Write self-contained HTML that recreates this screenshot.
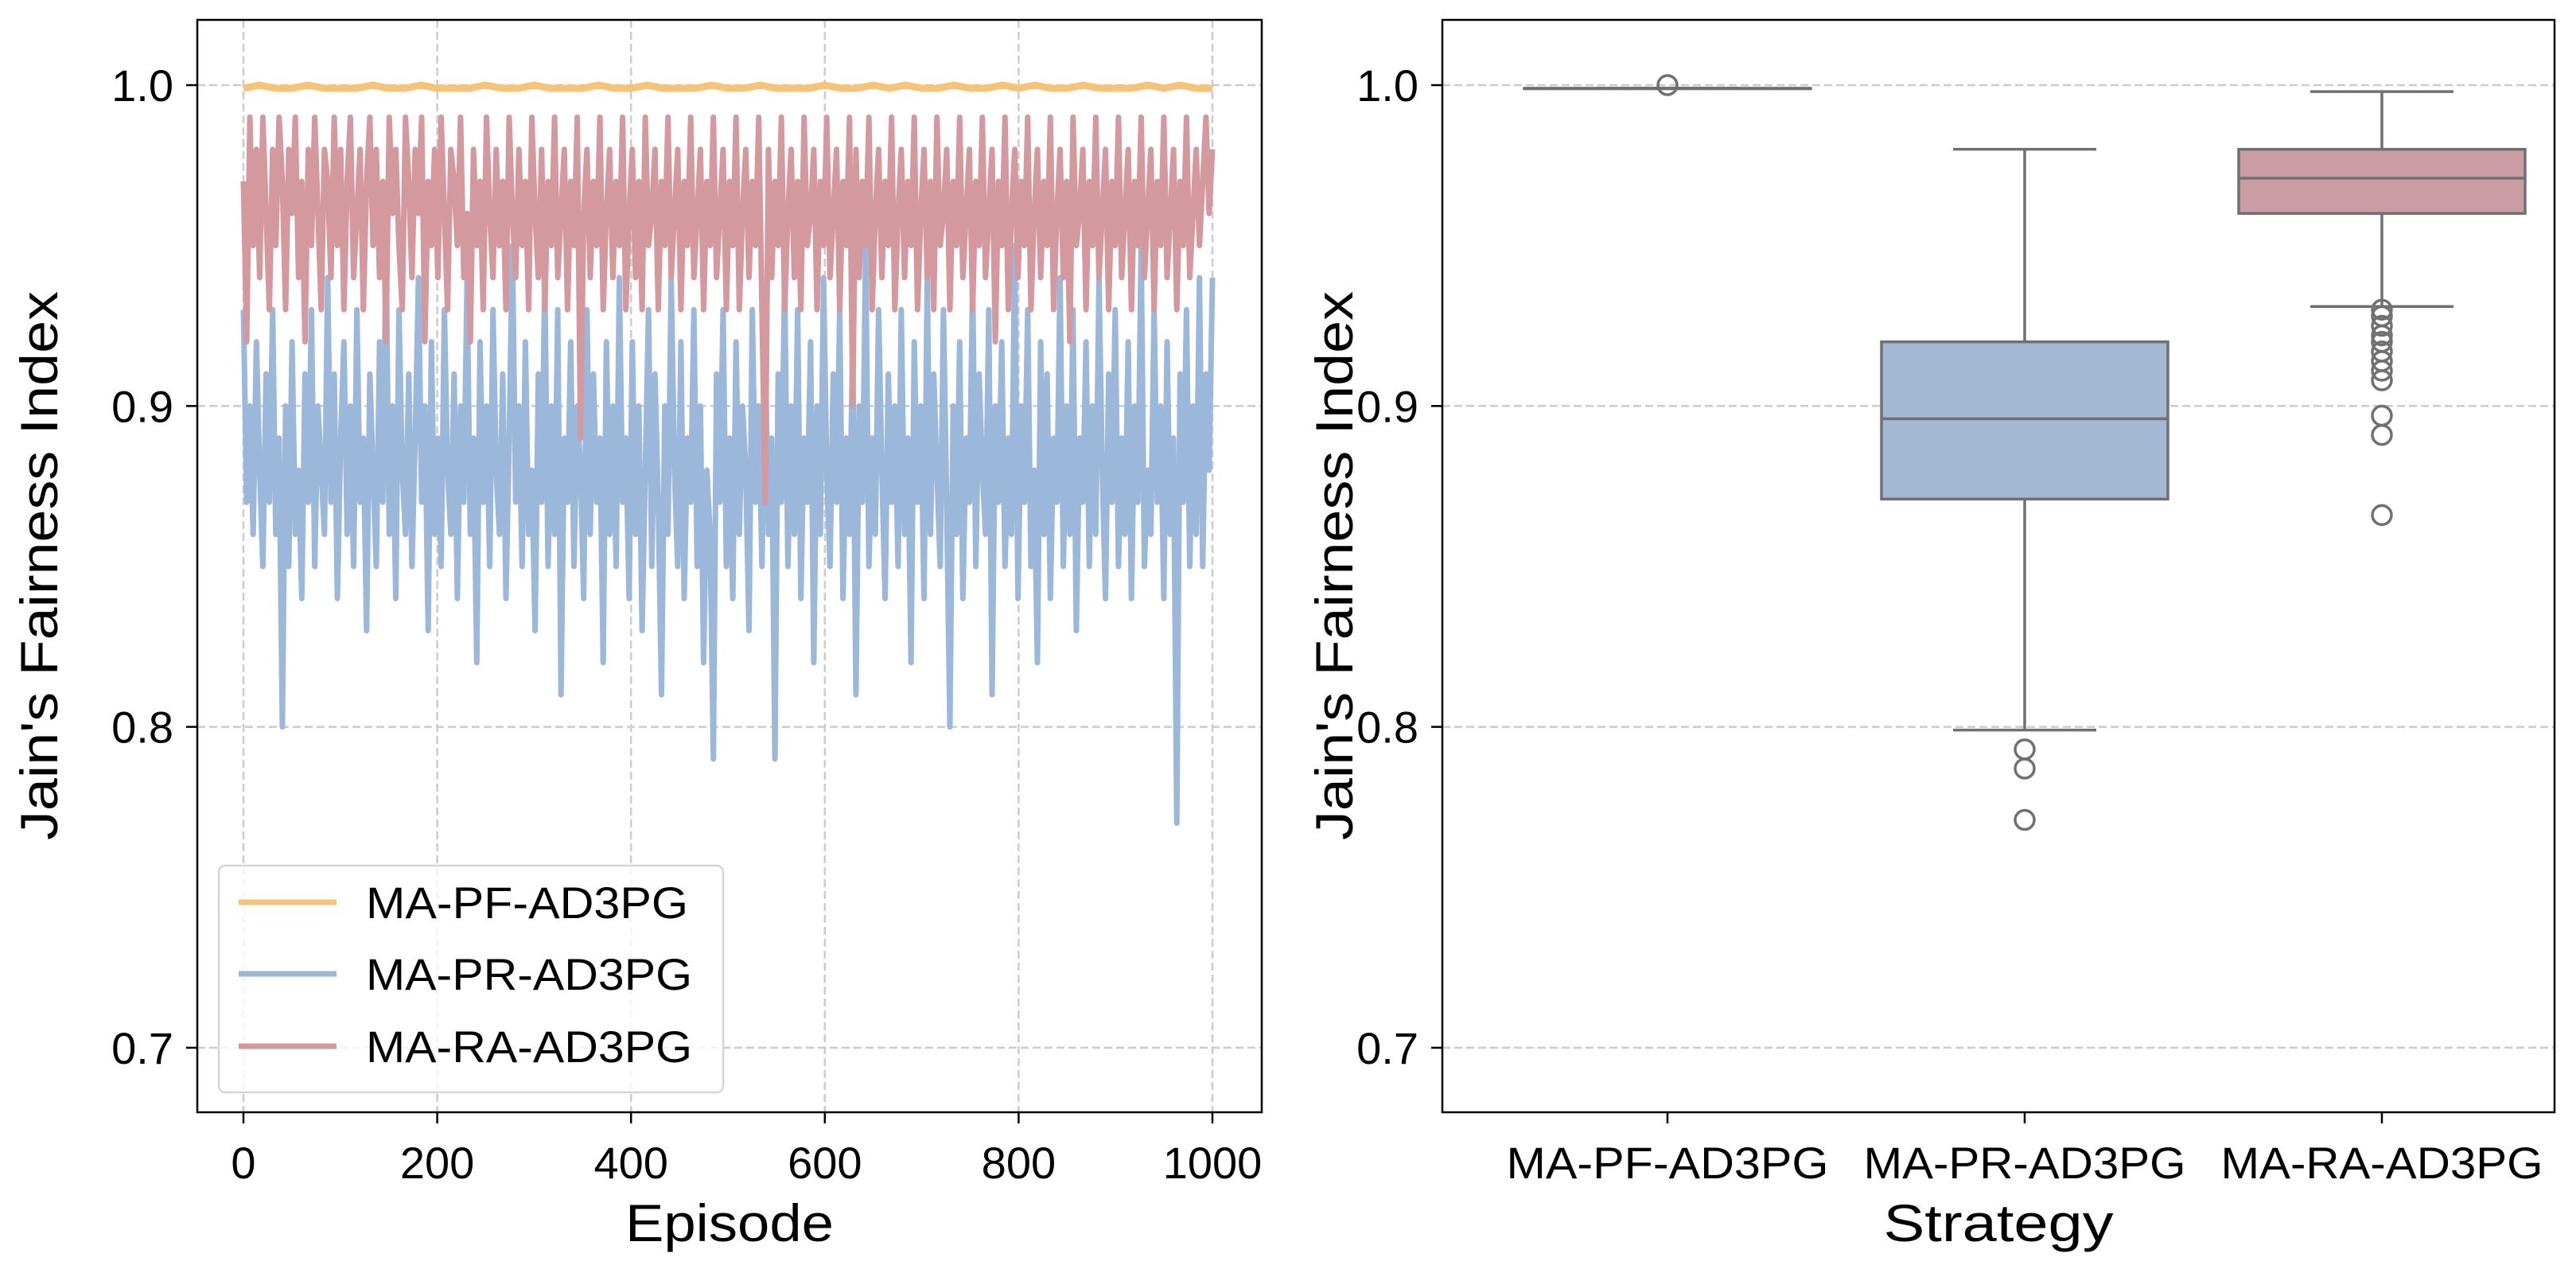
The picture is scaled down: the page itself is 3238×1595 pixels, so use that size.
<!DOCTYPE html>
<html><head><meta charset="utf-8"><style>
html,body{margin:0;padding:0;background:#fff;}
svg{display:block;font-family:"Liberation Sans","DejaVu Sans",sans-serif;}
</style></head><body>
<svg id="fig" width="3238" height="1595" viewBox="0 0 3238 1595" xmlns="http://www.w3.org/2000/svg"></svg>
<script>
// ---------- data ----------
const yTicks = [0.7, 0.8, 0.9, 1.0];
const yTickLabels = ["0.7", "0.8", "0.9", "1.0"];
const xTicks = [0, 200, 400, 600, 800, 1000];
const xTickLabels = ["0", "200", "400", "600", "800", "1000"];
const seriesNames = ["MA-PF-AD3PG", "MA-PR-AD3PG", "MA-RA-AD3PG"];
const pfValues = [0.999,1.0,0.999,0.999,1.0,0.999,0.999,0.999,1.0,0.999,0.999,1.0,0.999,0.999,0.999,1.0,0.999,0.999,1.0,0.999,0.999,0.999,1.0,0.999,0.999,1.0,0.999,0.999,0.999,1.0,0.999,0.999,1.0,0.999,0.999,0.999,1.0,0.999,0.999,1.0,0.999,1.0,0.999,0.999,1.0,0.999,0.999,1.0,0.999,1.0,0.999,0.999,1.0,0.999,0.999,0.999,1.0,0.999,1.0,0.999,0.999];
const prValues = [0.93,0.87,0.90,0.86,0.92,0.88,0.85,0.91,0.87,0.93,0.86,0.89,0.80,0.90,0.85,0.92,0.86,0.88,0.84,0.91,
0.87,0.93,0.85,0.90,0.88,0.86,0.94,0.87,0.91,0.84,0.89,0.92,0.86,0.90,0.85,0.93,0.87,0.89,0.83,0.91,
0.88,0.85,0.92,0.87,0.95,0.86,0.90,0.84,0.93,0.88,0.86,0.91,0.85,0.89,0.94,0.87,0.90,0.83,0.92,0.86,
0.89,0.85,0.93,0.88,0.86,0.91,0.84,0.90,0.87,0.94,0.86,0.89,0.82,0.92,0.87,0.90,0.85,0.93,0.88,0.86,
0.91,0.84,0.89,0.95,0.87,0.90,0.85,0.92,0.86,0.88,0.83,0.91,0.87,0.94,0.85,0.90,0.86,0.93,0.81,0.89,
0.87,0.92,0.85,0.90,0.88,0.84,0.93,0.86,0.91,0.87,0.89,0.82,0.92,0.86,0.90,0.85,0.94,0.87,0.89,0.84,
0.92,0.86,0.90,0.83,0.88,0.93,0.85,0.91,0.87,0.81,0.90,0.86,0.94,0.88,0.85,0.92,0.84,0.89,0.87,0.93,
0.85,0.90,0.82,0.88,0.86,0.79,0.91,0.87,0.93,0.85,0.89,0.84,0.92,0.86,0.90,0.88,0.83,0.93,0.87,0.90,
0.85,0.92,0.86,0.89,0.79,0.91,0.87,0.94,0.85,0.90,0.86,0.93,0.84,0.89,0.87,0.92,0.82,0.90,0.86,0.94,
0.88,0.85,0.91,0.87,0.93,0.84,0.89,0.86,0.92,0.81,0.90,0.87,0.95,0.85,0.89,0.86,0.93,0.88,0.84,0.91,
0.87,0.90,0.85,0.93,0.86,0.89,0.82,0.92,0.87,0.90,0.84,0.94,0.86,0.91,0.88,0.85,0.93,0.87,0.80,0.90,
0.86,0.92,0.84,0.89,0.87,0.94,0.85,0.91,0.88,0.86,0.93,0.81,0.90,0.87,0.92,0.85,0.89,0.86,0.95,0.84,
0.90,0.87,0.93,0.85,0.88,0.82,0.92,0.86,0.91,0.84,0.89,0.87,0.94,0.85,0.90,0.86,0.93,0.83,0.89,0.87,
0.92,0.85,0.90,0.86,0.94,0.88,0.84,0.91,0.87,0.93,0.85,0.89,0.86,0.92,0.84,0.90,0.87,0.95,0.85,0.88,
0.86,0.93,0.87,0.90,0.84,0.92,0.86,0.89,0.77,0.91,0.87,0.93,0.85,0.90,0.86,0.94,0.85,0.91,0.88,0.94];
const raValues = [0.97,0.92,0.99,0.95,0.98,0.94,0.99,0.96,0.93,0.98,0.95,0.99,0.97,0.93,0.98,0.96,0.99,0.94,0.97,0.92,
0.98,0.95,0.99,0.96,0.93,0.98,0.97,0.94,0.99,0.95,0.98,0.93,0.97,0.99,0.94,0.96,0.98,0.93,0.97,0.99,
0.95,0.98,0.94,0.97,0.92,0.99,0.96,0.98,0.95,0.93,0.99,0.97,0.94,0.98,0.96,0.99,0.92,0.97,0.95,0.98,
0.94,0.99,0.96,0.93,0.98,0.97,0.95,0.99,0.94,0.96,0.92,0.98,0.95,0.97,0.93,0.99,0.96,0.94,0.98,0.95,
0.97,0.93,0.99,0.96,0.94,0.98,0.95,0.97,0.93,0.99,0.96,0.94,0.98,0.93,0.97,0.95,0.99,0.94,0.96,0.98,
0.93,0.97,0.95,0.99,0.89,0.96,0.98,0.94,0.97,0.95,0.99,0.93,0.96,0.98,0.94,0.97,0.95,0.99,0.93,0.96,
0.98,0.94,0.97,0.93,0.99,0.95,0.96,0.98,0.93,0.97,0.95,0.99,0.94,0.96,0.98,0.93,0.97,0.95,0.99,0.94,
0.96,0.98,0.93,0.97,0.95,0.99,0.94,0.96,0.98,0.93,0.97,0.95,0.99,0.93,0.96,0.98,0.94,0.97,0.95,0.99,
0.93,0.87,0.98,0.94,0.97,0.95,0.99,0.93,0.96,0.98,0.94,0.97,0.93,0.99,0.95,0.96,0.98,0.93,0.97,0.95,
0.99,0.94,0.96,0.98,0.93,0.97,0.95,0.99,0.90,0.98,0.94,0.97,0.95,0.99,0.93,0.96,0.98,0.94,0.97,0.95,
0.99,0.93,0.96,0.98,0.94,0.97,0.95,0.99,0.93,0.96,0.98,0.94,0.97,0.93,0.99,0.95,0.96,0.98,0.93,0.97,
0.95,0.99,0.94,0.96,0.98,0.93,0.97,0.95,0.99,0.94,0.96,0.98,0.92,0.97,0.95,0.99,0.93,0.96,0.98,0.94,
0.97,0.95,0.99,0.93,0.96,0.98,0.94,0.97,0.95,0.99,0.93,0.96,0.98,0.94,0.97,0.92,0.99,0.95,0.96,0.98,
0.93,0.97,0.95,0.99,0.94,0.96,0.98,0.93,0.97,0.95,0.99,0.94,0.96,0.98,0.93,0.97,0.95,0.99,0.94,0.96,
0.98,0.93,0.97,0.95,0.99,0.94,0.96,0.98,0.93,0.97,0.95,0.99,0.94,0.96,0.98,0.95,0.97,0.99,0.96,0.98];
// box stats: [whiskerLow, q1, median, q3, whiskerHigh]
const boxCategories = ["MA-PF-AD3PG", "MA-PR-AD3PG", "MA-RA-AD3PG"];
const boxPF = [0.999, 0.999, 0.999, 0.999, 0.999];
const boxPR = [0.799, 0.871, 0.896, 0.920, 0.980];
const boxRA = [0.931, 0.960, 0.971, 0.980, 0.998];
const outPF = [1.0];
const outPR = [0.793, 0.787, 0.771];
const outRA = [0.930, 0.928, 0.925, 0.922, 0.920, 0.917, 0.914, 0.911, 0.908, 0.897, 0.891, 0.866];

// ---------- layout ----------
const NS = "http://www.w3.org/2000/svg";
const svg = document.getElementById("fig");
function mk(tag, attrs, parent) {
  const e = document.createElementNS(NS, tag);
  for (const k in attrs) e.setAttribute(k, attrs[k]);
  (parent || svg).appendChild(e);
  return e;
}
const plotTop = 25, plotBottom = 1398;
const yScale = v => 107 + (1.0 - v) * 4033;
const L = {left: 248, right: 1586};
const R = {left: 1813, right: 3211};
const xScale = v => 306 + v * (1524 - 306) / 1000;
const catX = i => 2096 + i * 449;

function gridY(panel, g) {
  yTicks.forEach((t, i) => {
    const y = yScale(t);
    const gl = mk("line", {x1: panel.left, x2: panel.right, y1: y, y2: y, stroke: "#cccccc", "stroke-width": 2.5, "stroke-dasharray": "10,5"}, g);
    
    
    mk("line", {x1: panel.left - 14, x2: panel.left, y1: y, y2: y, stroke: "#000", "stroke-width": 2.5}, g);
    const tx = mk("text", {x: panel.left - 30, y: y + 20, "text-anchor": "end", "font-size": 56, fill: "#000"}, g);
    tx.textContent = yTickLabels[i];
    
    
  });
}
function ylabel(x, g) {
  const t = mk("text", {x: x, y: 711, transform: `rotate(-90 ${x} 711)`, "text-anchor": "middle", "font-size": 66, fill: "#000", textLength: 690, lengthAdjust: "spacingAndGlyphs"}, g);
  t.textContent = "Jain's Fairness Index";
  
  
}

// ---------- left panel ----------
const gL = mk("g", {});


gridY(L, gL);
xTicks.forEach((t, i) => {
  const x = xScale(t);
  mk("line", {x1: x, x2: x, y1: plotTop, y2: plotBottom, stroke: "#cccccc", "stroke-width": 2.5, "stroke-dasharray": "10,5"}, gL);
  mk("line", {x1: x, x2: x, y1: plotBottom, y2: plotBottom + 14, stroke: "#000", "stroke-width": 2.5}, gL);
  const tx = mk("text", {x: x, y: 1481, "text-anchor": "middle", "font-size": 56}, gL);
  tx.textContent = xTickLabels[i];
  
  
});
function drawSeries(vals, color, name, w) {
  const n = vals.length;
  const pts = vals.map((v, i) => xScale(i * 1000 / (n - 1)).toFixed(1) + "," + yScale(v).toFixed(1)).join(" ");
  const p = mk("polyline", {points: pts, fill: "none", stroke: color, "stroke-width": w, "stroke-linejoin": "round"}, gL);
  
  
}
drawSeries(prValues, "#9bb7da", "series-ma-pr-ad3pg", 7);
drawSeries(raValues, "#d3999f", "series-ma-ra-ad3pg", 7);
drawSeries(pfValues, "#f5c479", "series-ma-pf-ad3pg", 9);
mk("rect", {x: L.left, y: plotTop, width: L.right - L.left, height: plotBottom - plotTop, fill: "none", stroke: "#000", "stroke-width": 2.5}, gL);
const xl = mk("text", {x: (L.left + L.right) / 2, y: 1560, "text-anchor": "middle", "font-size": 66, textLength: 262, lengthAdjust: "spacingAndGlyphs"}, gL);
xl.textContent = "Episode";


ylabel(72, gL);

// legend
const lg = mk("g", {});


mk("rect", {x: 275, y: 1088, width: 634, height: 285, rx: 8, fill: "#fff", "fill-opacity": 0.8, stroke: "#d6d6d6", "stroke-width": 2.5}, lg);
const legColors = ["#f5c479", "#9bb7da", "#d3999f"];
const legY = [1134, 1224, 1315];
seriesNames.forEach((s, i) => {
  const e = mk("g", {}, lg);
  
  
  mk("line", {x1: 300, x2: 423, y1: legY[i], y2: legY[i], stroke: legColors[i], "stroke-width": 7}, e);
  const t = mk("text", {x: 460, y: legY[i] + 20, "font-size": 56, textLength: i === 0 ? 405 : 410, lengthAdjust: "spacingAndGlyphs"}, e);
  t.textContent = s;
});

// ---------- right panel ----------
const gR = mk("g", {});


gridY(R, gR);
const boxes = [boxPF, boxPR, boxRA];
const outs = [outPF, outPR, outRA];
const boxFill = ["#f3c47e", "#a3b8d2", "#c99da3"];
const edge = "#707070";
const bw = 360;
boxes.forEach((b, i) => {
  const cx = catX(i);
  const g = mk("g", {}, gR);
  
  
  mk("line", {x1: cx, x2: cx, y1: yScale(b[0]), y2: yScale(b[1]), stroke: edge, "stroke-width": 3.5}, g);
  mk("line", {x1: cx, x2: cx, y1: yScale(b[3]), y2: yScale(b[4]), stroke: edge, "stroke-width": 3.5}, g);
  mk("line", {x1: cx - bw / 4, x2: cx + bw / 4, y1: yScale(b[0]), y2: yScale(b[0]), stroke: edge, "stroke-width": 3.5}, g);
  mk("line", {x1: cx - bw / 4, x2: cx + bw / 4, y1: yScale(b[4]), y2: yScale(b[4]), stroke: edge, "stroke-width": 3.5}, g);
  mk("rect", {x: cx - bw / 2, y: yScale(b[3]), width: bw, height: Math.max(0.5, yScale(b[1]) - yScale(b[3])), fill: boxFill[i], stroke: edge, "stroke-width": 3.5}, g);
  mk("line", {x1: cx - bw / 2, x2: cx + bw / 2, y1: yScale(b[2]), y2: yScale(b[2]), stroke: edge, "stroke-width": 3.5}, g);
  outs[i].forEach(v => {
    const c = mk("circle", {cx: cx, cy: yScale(v), r: 12, fill: "none", stroke: edge, "stroke-width": 3.5}, g);
    
    
  });
  mk("line", {x1: cx, x2: cx, y1: plotBottom, y2: plotBottom + 14, stroke: "#000", "stroke-width": 2.5}, gR);
  const tx = mk("text", {x: cx, y: 1481, "text-anchor": "middle", "font-size": 56, textLength: 405, lengthAdjust: "spacingAndGlyphs"}, gR);
  tx.textContent = boxCategories[i];
  
  
});
mk("rect", {x: R.left, y: plotTop, width: R.right - R.left, height: plotBottom - plotTop, fill: "none", stroke: "#000", "stroke-width": 2.5}, gR);
const xr = mk("text", {x: (R.left + R.right) / 2, y: 1560, "text-anchor": "middle", "font-size": 66, textLength: 289, lengthAdjust: "spacingAndGlyphs"}, gR);
xr.textContent = "Strategy";


ylabel(1700, gR);
</script>
</body></html>
